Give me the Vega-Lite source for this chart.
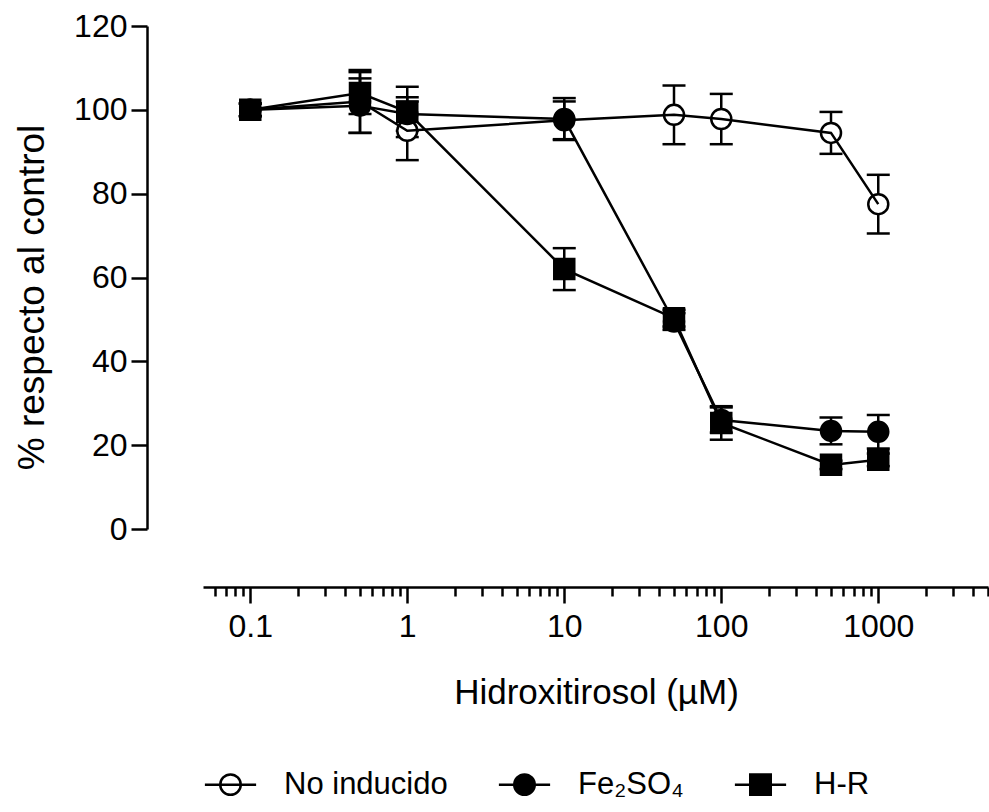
{
  "$schema": "https://vega.github.io/schema/vega-lite/v6.json",
  "width": 785,
  "height": 503,
  "autosize": {"type": "none"},
  "padding": {"left": 203, "top": 26, "right": 1, "bottom": 283},
  "background": "white",
  "config": {
    "view": {"stroke": null},
    "font": "Liberation Sans",
    "axis": {
      "grid": false,
      "domainColor": "black",
      "tickColor": "black",
      "labelColor": "black",
      "titleColor": "black",
      "domainWidth": 2.5,
      "tickWidth": 2.5,
      "labelFont": "Liberation Sans",
      "titleFont": "Liberation Sans",
      "titleFontWeight": "normal",
      "labelFontSize": 32,
      "titleFontSize": 35
    },
    "legend": {
      "labelFont": "Liberation Sans",
      "labelFontSize": 31,
      "labelColor": "black",
      "labelLimit": 400
    }
  },
  "data": {
    "values": [
      {"series": "No inducido", "conc": 0.1, "y": 100, "lo": 98.5, "hi": 101.5},
      {"series": "No inducido", "conc": 0.5, "y": 102, "lo": 94.5, "hi": 109.5},
      {"series": "No inducido", "conc": 1, "y": 95, "lo": 88, "hi": 102},
      {"series": "No inducido", "conc": 10, "y": 97.5, "lo": 93, "hi": 102},
      {"series": "No inducido", "conc": 50, "y": 98.8, "lo": 91.8, "hi": 105.8},
      {"series": "No inducido", "conc": 100, "y": 97.8, "lo": 91.8, "hi": 103.8},
      {"series": "No inducido", "conc": 500, "y": 94.5, "lo": 89.5, "hi": 99.5},
      {"series": "No inducido", "conc": 1000, "y": 77.5, "lo": 70.5, "hi": 84.5},
      {"series": "Fe₂SO₄", "conc": 0.1, "y": 100, "lo": 98.5, "hi": 101.5},
      {"series": "Fe₂SO₄", "conc": 0.5, "y": 101, "lo": 94.5, "hi": 107.5},
      {"series": "Fe₂SO₄", "conc": 1, "y": 99, "lo": 95, "hi": 103},
      {"series": "Fe₂SO₄", "conc": 10, "y": 97.8, "lo": 92.8, "hi": 102.8},
      {"series": "Fe₂SO₄", "conc": 50, "y": 49.5, "lo": 47.5, "hi": 51.5},
      {"series": "Fe₂SO₄", "conc": 100, "y": 26, "lo": 23, "hi": 29},
      {"series": "Fe₂SO₄", "conc": 500, "y": 23.4, "lo": 20.2, "hi": 26.6},
      {"series": "Fe₂SO₄", "conc": 1000, "y": 23.2, "lo": 19.2, "hi": 27.2},
      {"series": "H-R", "conc": 0.1, "y": 100, "lo": 98.5, "hi": 101.5},
      {"series": "H-R", "conc": 0.5, "y": 104, "lo": 99, "hi": 109},
      {"series": "H-R", "conc": 1, "y": 99.5, "lo": 93.5, "hi": 105.5},
      {"series": "H-R", "conc": 10, "y": 62, "lo": 57, "hi": 67},
      {"series": "H-R", "conc": 50, "y": 50.3, "lo": 48.3, "hi": 52.3},
      {"series": "H-R", "conc": 100, "y": 25.3, "lo": 21.3, "hi": 29.3},
      {"series": "H-R", "conc": 500, "y": 15.3, "lo": 14.3, "hi": 16.3},
      {"series": "H-R", "conc": 1000, "y": 16.5, "lo": 15, "hi": 18}
    ]
  },
  "layer": [
    {
      "mark": {"type": "rule", "color": "black", "strokeWidth": 2.5},
      "encoding": {
        "x": {
          "field": "conc", "type": "quantitative",
          "scale": {"type": "log", "domain": [0.05, 5000], "nice": false},
          "axis": {
            "orient": "bottom",
            "values": [0.06, 0.07, 0.08, 0.09, 0.2, 0.3, 0.4, 0.5, 0.6, 0.7, 0.8, 0.9, 2, 3, 4, 5, 6, 7, 8, 9, 20, 30, 40, 50, 60, 70, 80, 90, 200, 300, 400, 500, 600, 700, 800, 900, 2000, 3000, 4000, 5000],
            "labels": false, "domain": false, "tickSize": 9, "offset": 58, "title": null
          }
        },
        "y": {
          "field": "lo", "type": "quantitative",
          "scale": {"domain": [0, 120], "nice": false},
          "title": "% respecto al control",
          "axis": {
            "values": [0, 20, 40, 60, 80, 100, 120],
            "offset": 56, "tickSize": 16, "labelPadding": 4,
            "titleX": -115, "titleY": 271, "titleAngle": -90, "titleBaseline": "middle", "titleAlign": "center", "titleFontSize": 37
          }
        },
        "y2": {"field": "hi"}
      }
    },
    {
      "mark": {"type": "point", "shape": "stroke", "size": 529, "stroke": "black", "strokeWidth": 2.5, "filled": false, "opacity": 1},
      "encoding": {
        "x": {"field": "conc", "type": "quantitative", "axis": null},
        "y": {"field": "lo", "type": "quantitative", "title": "% respecto al control"}
      }
    },
    {
      "mark": {"type": "point", "shape": "stroke", "size": 529, "stroke": "black", "strokeWidth": 2.5, "filled": false, "opacity": 1},
      "encoding": {
        "x": {"field": "conc", "type": "quantitative", "axis": null},
        "y": {"field": "hi", "type": "quantitative", "title": "% respecto al control"}
      }
    },
    {
      "mark": {"type": "point", "stroke": "black", "strokeWidth": 2.5, "opacity": 1},
      "encoding": {
        "x": {"field": "conc", "type": "quantitative", "axis": null},
        "y": {"field": "y", "type": "quantitative", "title": "% respecto al control"},
        "shape": {"field": "series", "type": "nominal", "scale": {"domain": ["No inducido", "Fe₂SO₄", "H-R"], "range": ["circle", "circle", "square"]}, "legend": null},
        "fill": {"field": "series", "type": "nominal", "scale": {"domain": ["No inducido", "Fe₂SO₄", "H-R"], "range": ["white", "black", "black"]}, "legend": null},
        "size": {"field": "series", "type": "nominal", "scale": {"domain": ["No inducido", "Fe₂SO₄", "H-R"], "range": [400, 400, 480]}, "legend": null}
      }
    },
    {
      "mark": {"type": "line", "color": "black", "strokeWidth": 2.5},
      "encoding": {
        "x": {
          "field": "conc", "type": "quantitative",
          "title": "Hidroxitirosol (µM)",
          "axis": {
            "orient": "bottom",
            "values": [0.1, 1, 10, 100, 1000], "format": "~g",
            "tickSize": 16, "offset": 58, "labelPadding": 8,
            "titleX": 393, "titleY": 116, "titleBaseline": "alphabetic", "titleAlign": "center"
          }
        },
        "y": {"field": "y", "type": "quantitative", "title": "% respecto al control"},
        "detail": {"field": "series", "type": "nominal"}
      }
    },
    {
      "transform": [{"filter": "datum.conc < 0"}],
      "mark": {"type": "point", "strokeWidth": 2.5, "opacity": 1},
      "encoding": {
        "x": {"field": "conc", "type": "quantitative", "axis": null},
        "y": {"field": "y", "type": "quantitative", "title": "% respecto al control"},
        "shape": {
          "field": "series", "type": "nominal",
          "scale": {"domain": ["No inducido", "Fe₂SO₄", "H-R"], "range": [
            "M-2.5,0L2.5,0M-1,0A1,1,0,1,0,1,0A1,1,0,1,0,-1,0Z",
            "M-2.5,0L2.5,0M-1,0A1,1,0,1,0,1,0A1,1,0,1,0,-1,0Z",
            "M-2.5,0L2.5,0M-1,-1L1,-1L1,1L-1,1Z"
          ]},
          "legend": {
            "title": null, "orient": "none", "direction": "horizontal",
            "legendX": 12, "legendY": 743,
            "symbolSize": 420, "symbolStrokeWidth": 2.5,
            "labelOffset": 38, "columnPadding": 45, "padding": 0
          }
        },
        "fill": {
          "field": "series", "type": "nominal",
          "scale": {"domain": ["No inducido", "Fe₂SO₄", "H-R"], "range": ["white", "black", "black"]},
          "legend": {
            "title": null, "orient": "none", "direction": "horizontal",
            "legendX": 12, "legendY": 743,
            "symbolSize": 420, "symbolStrokeWidth": 2.5,
            "labelOffset": 38, "columnPadding": 45, "padding": 0
          }
        },
        "stroke": {
          "field": "series", "type": "nominal",
          "scale": {"domain": ["No inducido", "Fe₂SO₄", "H-R"], "range": ["black", "black", "black"]},
          "legend": {
            "title": null, "orient": "none", "direction": "horizontal",
            "legendX": 12, "legendY": 743,
            "symbolSize": 420, "symbolStrokeWidth": 2.5,
            "labelOffset": 38, "columnPadding": 45, "padding": 0
          }
        }
      }
    }
  ],
  "resolve": {
    "scale": {"shape": "independent", "fill": "independent", "size": "independent", "stroke": "independent"},
    "axis": {"x": "independent"}
  }
}
